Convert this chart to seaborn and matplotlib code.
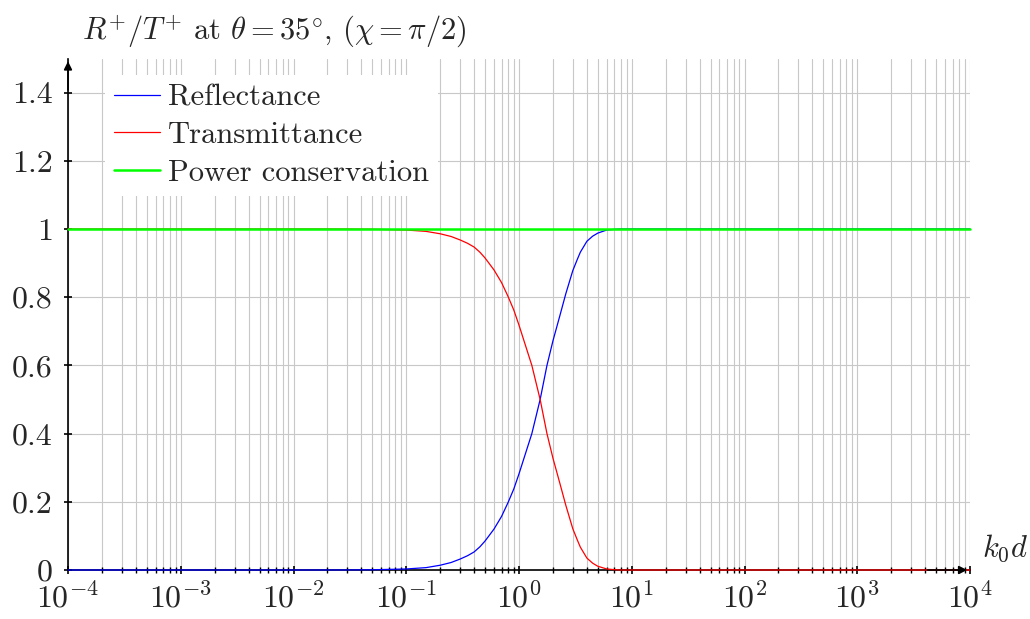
#!/usr/bin/env python3
"""R+/T+ versus k0*d for theta = 35 deg, chi = pi/2."""
import numpy as np
import pandas as pd
import matplotlib
matplotlib.use("Agg")
import matplotlib.pyplot as plt
import matplotlib.ticker as mticker
import seaborn as sns

# values
kd = [1e-4, 1e-3, 1e-2, 0.03, 0.05, 0.1, 0.15, 0.2, 0.25, 0.3, 0.35, 0.4, 0.45,
      0.5, 0.6, 0.7, 0.8, 0.9, 1.0, 1.3, 1.54, 1.77, 2.0, 2.3, 2.6, 3.0, 3.3, 3.5,
      4.0, 4.5, 5.0, 6.0, 7.0, 8.0, 10.0, 100.0, 1e3, 1e4]
reflectance = [0.0, 0.0, 0.0, 0.0002, 0.0007, 0.003, 0.007, 0.014, 0.022, 0.032,
               0.042, 0.053, 0.068, 0.085, 0.12, 0.157, 0.198, 0.238, 0.282, 0.4,
               0.5, 0.6, 0.672, 0.745, 0.81, 0.878, 0.912, 0.932, 0.964, 0.979,
               0.988, 0.997, 0.999, 1.0, 1.0, 1.0, 1.0, 1.0]
transmittance = [1.0, 1.0, 1.0, 0.9998, 0.9993, 0.997, 0.993, 0.986, 0.978, 0.968,
                 0.958, 0.947, 0.932, 0.915, 0.88, 0.843, 0.802, 0.762, 0.718, 0.6,
                 0.5, 0.4, 0.328, 0.255, 0.19, 0.121, 0.087, 0.067, 0.035, 0.02,
                 0.011, 0.003, 0.001, 0.0, 0.0, 0.0, 0.0, 0.0]
power = [1.0] * len(kd)

sns.set_theme(style="white")
plt.rcParams['font.family'] = 'serif'
plt.rcParams['font.serif'] = ['cmr10', 'DejaVu Serif']
plt.rcParams['mathtext.fontset'] = 'cm'
plt.rcParams['axes.formatter.use_mathtext'] = True
plt.rcParams['axes.unicode_minus'] = True

fig = plt.figure(figsize=(10.3, 6.19), dpi=100)
ax = fig.add_axes([68 / 1030, 49 / 619, 902 / 1030, 511.5 / 619])

df = pd.DataFrame({'kd': kd, 'R': reflectance, 'T': transmittance, 'P': power})
sns.lineplot(data=df, x='kd', y='R', color='#0000ff', lw=0.9, label='Reflectance',
             ax=ax, zorder=4, clip_on=False)
sns.lineplot(data=df, x='kd', y='T', color='#ff0000', lw=0.9, label='Transmittance',
             ax=ax, zorder=4, clip_on=False)
sns.lineplot(data=df, x='kd', y='P', color='#00ff00', lw=1.8, label='Power conservation',
             ax=ax, zorder=4, clip_on=False)

ax.set_xscale('log')
ax.set_xlim(1e-4, 1e4)
ax.set_ylim(0, 1.5)
ax.xaxis.set_major_locator(mticker.LogLocator(base=10, numticks=20))
ax.xaxis.set_minor_locator(mticker.LogLocator(base=10, subs=np.arange(2, 10), numticks=100))
ax.xaxis.set_minor_formatter(mticker.NullFormatter())
ax.set_yticks([0, 0.2, 0.4, 0.6, 0.8, 1.0, 1.2, 1.4])
ax.yaxis.set_major_formatter(mticker.FuncFormatter(lambda v, p: f'{v:g}'))

ax.grid(True, which='both', axis='x', color='#c8c8c8', lw=0.8)
ax.grid(True, which='major', axis='y', color='#c8c8c8', lw=0.8)
ax.set_axisbelow(True)

for s in ['top', 'right']:
    ax.spines[s].set_visible(False)
for s in ['left', 'bottom']:
    ax.spines[s].set_color('black')
    ax.spines[s].set_linewidth(1.2)
    ax.spines[s].set_zorder(3)

ax.tick_params(axis='both', which='both', bottom=True, left=True, top=False, right=False)
ax.tick_params(axis='both', which='major', direction='inout', length=6, width=1.2,
               color='black', labelsize=23)
ax.tick_params(axis='x', which='minor', direction='inout', length=4, width=1.0,
               color='black')
ax.tick_params(axis='x', which='major', pad=5)
ax.tick_params(axis='y', which='major', pad=8)
ax.set_xlabel('')
ax.set_ylabel('')

# axis arrows
ax.annotate('', xy=(0, 1.5), xytext=(0, 1.4), xycoords=('axes fraction', 'data'),
            arrowprops=dict(arrowstyle='-|>', color='black', lw=1.2, mutation_scale=12),
            annotation_clip=False)
ax.annotate('', xy=(1.0, 0), xytext=(0.95, 0), xycoords=('axes fraction', 'data'),
            arrowprops=dict(arrowstyle='-|>', color='black', lw=1.2, mutation_scale=12),
            annotation_clip=False, zorder=5)

leg = ax.legend(loc='upper left', bbox_to_anchor=(0.041, 0.968), fontsize=22,
                frameon=True, facecolor='white', edgecolor='none', framealpha=1,
                fancybox=False, handlelength=1.5, handletextpad=0.26,
                labelspacing=0.33, borderpad=0.3, borderaxespad=0)
leg.set_zorder(5)

fig.text(82 / 1030, 1 - 32 / 619, r'$R^{+}/T^{+}$ at $\theta = 35^{\circ}$, $(\chi = \pi/2)$',
         fontsize=22, ha='left', va='center')
fig.text(982 / 1030, 1 - 548 / 619, r'$k_0d$', fontsize=22, ha='left', va='center')

fig.savefig('out.png', dpi=100)
